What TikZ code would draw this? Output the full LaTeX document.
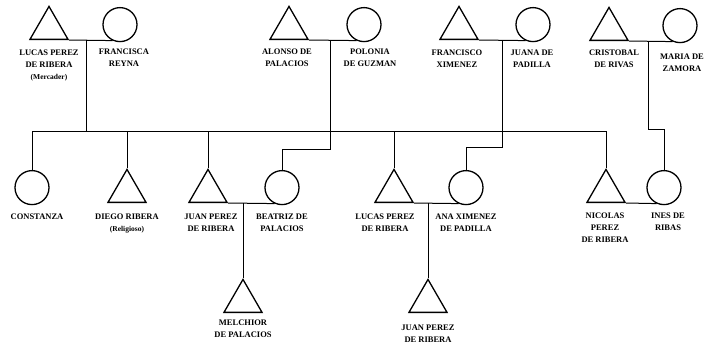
\documentclass[tikz,border=0pt]{standalone}
\usepackage{fontspec}
\setmainfont{Liberation Serif}
\usetikzlibrary{shapes.geometric,calc}
\begin{document}
\begin{tikzpicture}[x=1pt,y=-1pt,
  male/.style={draw,regular polygon,regular polygon sides=3,minimum size=43.9pt,
    inner sep=0pt,line width=1.3pt,anchor=side 2},
  female/.style={draw,circle,minimum size=34pt,inner sep=0pt,line width=1.3pt},
  persontext/.style={font=\bfseries\fontsize{8.5}{12}\selectfont,align=center,
    inner sep=0pt,anchor=north},
  link/.style={line width=1pt}]
\newcommand{\smallnote}[1]{{\fontsize{7.5}{12}\selectfont #1}}
\useasboundingbox (0,0) rectangle (710,346);

% ---- first generation: four couples
\node[male]   (lucasA)    at (49,40)    {};
\node[female] (francisca) at (120,24.6) {};
\node[male]   (alonso)    at (289,40)   {};
\node[female] (polonia)   at (364,24.6) {};
\node[male]   (francisco) at (459,40)   {};
\node[female] (juana)     at (533,24.6) {};
\node[male]   (cristobal) at (609,41)   {};
\node[female] (maria)     at (680,25.6) {};

\node[persontext] (lucasAl)    at (49,50)  {LUCAS PEREZ\\DE RIBERA\\\smallnote{(Mercader)}};
\node[persontext] (franciscal) at (124,49) {FRANCISCA\\REYNA};
\node[persontext] (alonsol)    at (287,49) {ALONSO DE\\PALACIOS};
\node[persontext] (polonial)   at (370,49) {POLONIA\\DE GUZMAN};
\node[persontext] (franciscol) at (457,50) {FRANCISCO\\XIMENEZ};
\node[persontext] (juanal)     at (532,50) {JUANA DE\\PADILLA};
\node[persontext] (cristoball) at (614,50) {CRISTOBAL\\DE RIVAS};
\node[persontext] (marial)     at (682,54) {MARIA DE\\ZAMORA};

% ---- second generation
\node[female] (constanza) at (32,187.6)  {};
\node[male]   (diego)     at (127,203)   {};
\node[male]   (juanA)     at (208,203)   {};
\node[female] (beatriz)   at (282,187.6) {};
\node[male]   (lucasB)    at (394,203)   {};
\node[female] (ana)       at (466,187.6) {};
\node[male]   (nicolas)   at (606,203)   {};
\node[female] (ines)      at (664,187.6) {};

\node[persontext] (constanzal) at (37,214)  {CONSTANZA};
\node[persontext] (diegol)     at (127,214) {DIEGO RIBERA\\\smallnote{(Religioso)}};
\node[persontext] (juanAl)     at (211,214) {JUAN PEREZ\\DE RIBERA};
\node[persontext] (beatrizl)   at (282,214) {BEATRIZ DE\\PALACIOS};
\node[persontext] (lucasBl)    at (385,214) {LUCAS PEREZ\\DE RIBERA};
\node[persontext] (anal)       at (466,214) {ANA XIMENEZ\\DE PADILLA};
\node[persontext] (nicolasl)   at (605,213) {NICOLAS\\PEREZ\\DE RIBERA};
\node[persontext] (inesl)      at (668,213) {INES DE\\RIBAS};

% ---- third generation
\node[male] (melchior) at (243,313) {};
\node[male] (juanB)    at (428,313) {};
\node[persontext] (melchiorl) at (243,320) {MELCHIOR\\DE PALACIOS};
\node[persontext] (juanBl)    at (428,325) {JUAN PEREZ\\DE RIBERA};

% ---- marriage lines and the points where descent lines leave them
\draw[link] (lucasA.corner 3)    -- (francisca.245);
\draw[link] (alonso.corner 3)    -- (polonia.245);
\draw[link] (francisco.corner 3) -- (juana.245);
\draw[link] (cristobal.corner 3) -- (maria.245);
\draw[link] (juanA.corner 3)     -- (beatriz.245);
\draw[link] (lucasB.corner 3)    -- (ana.245);
\draw[link] (nicolas.corner 3)   -- (ines.245);

\coordinate (u1) at ($(lucasA.corner 3)!0.4!(francisca.245)$);
\coordinate (u2) at ($(alonso.corner 3)!0.45!(polonia.245)$);
\coordinate (u3) at ($(francisco.corner 3)!0.5!(juana.245)$);
\coordinate (u4) at ($(cristobal.corner 3)!0.45!(maria.245)$);

% heights of the sibling bar and of the jogs
\coordinate (sib) at (0,131);
\coordinate (j2)  at (0,149);
\coordinate (j3)  at (0,147);
\coordinate (j4)  at (0,129);

% ---- children of Lucas Perez de Ribera and Francisca Reyna
\draw[link] (u1) -- (u1 |- sib);
\draw[link] (constanza.north |- sib) -- (nicolas.corner 1 |- sib);
\draw[link] (constanza.north)   -- (constanza.north |- sib);
\draw[link] (diego.corner 1)    -- (diego.corner 1 |- sib);
\draw[link] (juanA.corner 1)    -- (juanA.corner 1 |- sib);
\draw[link] (lucasB.corner 1)   -- (lucasB.corner 1 |- sib);
\draw[link] (nicolas.corner 1)  -- (nicolas.corner 1 |- sib);

% ---- daughters married into the family
\draw[link] (u2) -- (u2 |- j2) -| (beatriz.north);
\draw[link] (u3) -- (u3 |- j3) -| (ana.north);
\draw[link] (u4) -- (u4 |- j4) -| (ines.north);

% ---- grandsons
\draw[link] (melchior.corner 1) -- (melchior.corner 1 |- juanA.corner 3);
\draw[link] (juanB.corner 1)    -- (juanB.corner 1 |- lucasB.corner 3);
\end{tikzpicture}
\end{document}
